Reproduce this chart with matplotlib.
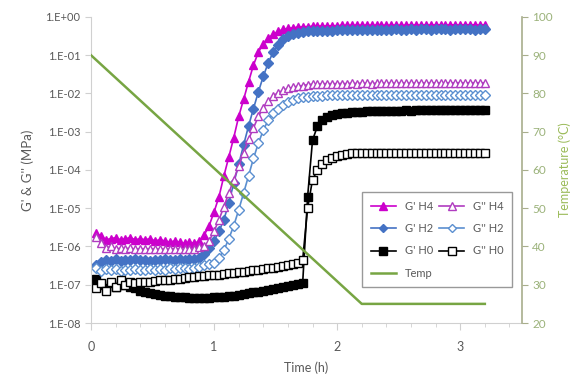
import matplotlib
matplotlib.use("Agg")
import math
import matplotlib.pyplot as plt
from matplotlib.ticker import FixedLocator, FuncFormatter, MultipleLocator

plt.rcParams['font.family'] = ['Lato', 'DejaVu Sans']

# time (h)
time_h = [0.04, 0.08, 0.12, 0.16, 0.20, 0.24, 0.28, 0.32, 0.36, 0.40,
          0.44, 0.48, 0.52, 0.56, 0.60, 0.64, 0.68, 0.72, 0.76, 0.80,
          0.84, 0.88, 0.92, 0.96, 1.00, 1.04, 1.08, 1.12, 1.16, 1.20,
          1.24, 1.28, 1.32, 1.36, 1.40, 1.44, 1.48, 1.52, 1.56, 1.60,
          1.64, 1.68, 1.72, 1.76, 1.80, 1.84, 1.88, 1.92, 1.96, 2.00,
          2.04, 2.08, 2.12, 2.16, 2.20, 2.24, 2.28, 2.32, 2.36, 2.40,
          2.44, 2.48, 2.52, 2.56, 2.60, 2.64, 2.68, 2.72, 2.76, 2.80,
          2.84, 2.88, 2.92, 2.96, 3.00, 3.04, 3.08, 3.12, 3.16, 3.20]

gp_h4 = [2.2e-6, 1.9e-6, 1.5e-6, 1.6e-6, 1.7e-6, 1.5e-6, 1.6e-6, 1.7e-6, 1.5e-6, 1.6e-6,
         1.5e-6, 1.6e-6, 1.4e-6, 1.5e-6, 1.4e-6, 1.3e-6, 1.4e-6, 1.3e-6, 1.2e-6, 1.3e-6,
         1.2e-6, 1.4e-6, 2.0e-6, 3.5e-6, 8e-6, 2e-5, 7e-5, 2.2e-4, 7e-4, 2.5e-3,
         7e-3, 2e-2, 5.5e-2, 0.12, 0.2, 0.28, 0.35, 0.42, 0.47, 0.5,
         0.52, 0.54, 0.55, 0.56, 0.57, 0.57, 0.58, 0.58, 0.59, 0.59,
         0.6, 0.6, 0.6, 0.61, 0.6, 0.61, 0.6, 0.61, 0.61, 0.6,
         0.61, 0.61, 0.6, 0.61, 0.62, 0.61, 0.61, 0.62, 0.61, 0.62,
         0.62, 0.61, 0.62, 0.62, 0.61, 0.62, 0.62, 0.62, 0.61, 0.62]

gpp_h4 = [1.8e-6, 1.2e-6, 9e-7, 1.0e-6, 8.5e-7, 9e-7, 8.8e-7, 9e-7, 8.5e-7, 8.8e-7,
          8.6e-7, 8.8e-7, 8.5e-7, 8.7e-7, 8.5e-7, 8.6e-7, 8.8e-7, 8.6e-7, 8.4e-7, 8.6e-7,
          8.8e-7, 9.5e-7, 1.0e-6, 1.4e-6, 2.5e-6, 5e-6, 1.1e-5, 2.5e-5, 5.6e-5, 1.25e-4,
          2.8e-4, 6.3e-4, 1.25e-3, 2.5e-3, 4.2e-3, 6.3e-3, 8.5e-3, 1.05e-2, 1.2e-2, 1.35e-2,
          1.45e-2, 1.55e-2, 1.6e-2, 1.7e-2, 1.75e-2, 1.75e-2, 1.8e-2, 1.8e-2, 1.8e-2, 1.8e-2,
          1.82e-2, 1.8e-2, 1.85e-2, 1.82e-2, 1.85e-2, 1.85e-2, 1.82e-2, 1.85e-2, 1.87e-2, 1.85e-2,
          1.87e-2, 1.85e-2, 1.88e-2, 1.87e-2, 1.85e-2, 1.88e-2, 1.9e-2, 1.87e-2, 1.88e-2, 1.9e-2,
          1.88e-2, 1.9e-2, 1.88e-2, 1.9e-2, 1.9e-2, 1.88e-2, 1.9e-2, 1.9e-2, 1.88e-2, 1.9e-2]

gp_h2 = [3.3e-7, 4e-7, 4.5e-7, 4.2e-7, 4.6e-7, 4.3e-7, 4.5e-7, 4.4e-7, 4.6e-7, 4.4e-7,
         4.5e-7, 4.3e-7, 4.5e-7, 4.4e-7, 4.6e-7, 4.5e-7, 4.4e-7, 4.6e-7, 4.5e-7, 4.7e-7,
         4.8e-7, 5e-7, 6.3e-7, 9e-7, 1.4e-6, 2.5e-6, 5e-6, 1.4e-5, 4.5e-5, 1.4e-4,
         4.5e-4, 1.4e-3, 4e-3, 1.1e-2, 2.8e-2, 6.3e-2, 0.12, 0.19, 0.26, 0.32,
         0.36, 0.39, 0.41, 0.42, 0.43, 0.43, 0.44, 0.44, 0.44, 0.45,
         0.45, 0.45, 0.46, 0.45, 0.46, 0.46, 0.45, 0.46, 0.46, 0.46,
         0.46, 0.47, 0.46, 0.46, 0.47, 0.46, 0.47, 0.47, 0.46, 0.47,
         0.47, 0.47, 0.46, 0.47, 0.47, 0.47, 0.47, 0.46, 0.47, 0.47]

gpp_h2 = [2.8e-7, 2.3e-7, 2.6e-7, 2.4e-7, 2.6e-7, 2.3e-7, 2.5e-7, 2.4e-7, 2.6e-7, 2.4e-7,
          2.5e-7, 2.6e-7, 2.4e-7, 2.6e-7, 2.5e-7, 2.7e-7, 2.6e-7, 2.8e-7, 2.7e-7, 2.6e-7,
          2.8e-7, 3e-7, 3.2e-7, 3.4e-7, 3.8e-7, 5e-7, 8e-7, 1.6e-6, 3.5e-6, 9e-6,
          2.5e-5, 7e-5, 2e-4, 5e-4, 1.1e-3, 2e-3, 3e-3, 4e-3, 5e-3, 5.9e-3,
          6.8e-3, 7.4e-3, 7.9e-3, 8.3e-3, 8.5e-3, 8.7e-3, 8.8e-3, 8.9e-3, 9e-3, 9e-3,
          9e-3, 9.1e-3, 9e-3, 9.1e-3, 9.1e-3, 9e-3, 9.2e-3, 9.1e-3, 9.1e-3, 9.2e-3,
          9.1e-3, 9.2e-3, 9.2e-3, 9.1e-3, 9.2e-3, 9.2e-3, 9.3e-3, 9.2e-3, 9.2e-3, 9.3e-3,
          9.2e-3, 9.3e-3, 9.2e-3, 9.3e-3, 9.3e-3, 9.2e-3, 9.3e-3, 9.3e-3, 9.3e-3, 9.3e-3]

gp_h0 = [1.4e-7, 1.0e-7, 8e-8, 1.1e-7, 9e-8, 1.0e-7, 1.1e-7, 9e-8, 8e-8, 7e-8,
         6.3e-8, 6e-8, 5.6e-8, 5.4e-8, 5e-8, 5e-8, 4.8e-8, 4.7e-8, 4.7e-8, 4.6e-8,
         4.5e-8, 4.5e-8, 4.5e-8, 4.6e-8, 4.7e-8, 4.7e-8, 4.8e-8, 5e-8, 5.2e-8, 5.5e-8,
         5.7e-8, 6e-8, 6.3e-8, 6.6e-8, 7e-8, 7.4e-8, 7.9e-8, 8.3e-8, 8.9e-8, 9.3e-8,
         1.0e-7, 1.07e-7, 1.12e-7, 2e-5, 6e-4, 1.4e-3, 2e-3, 2.4e-3, 2.7e-3, 2.9e-3,
         3.0e-3, 3.1e-3, 3.2e-3, 3.3e-3, 3.3e-3, 3.4e-3, 3.4e-3, 3.4e-3, 3.5e-3, 3.5e-3,
         3.5e-3, 3.5e-3, 3.5e-3, 3.6e-3, 3.5e-3, 3.6e-3, 3.6e-3, 3.6e-3, 3.6e-3, 3.6e-3,
         3.6e-3, 3.6e-3, 3.6e-3, 3.6e-3, 3.6e-3, 3.6e-3, 3.6e-3, 3.6e-3, 3.6e-3, 3.6e-3]

gpp_h0 = [8e-8, 1.1e-7, 7e-8, 1.2e-7, 9e-8, 1.3e-7, 1.0e-7, 1.2e-7, 1.1e-7, 1.2e-7,
          1.15e-7, 1.2e-7, 1.25e-7, 1.3e-7, 1.3e-7, 1.35e-7, 1.4e-7, 1.45e-7, 1.5e-7, 1.55e-7,
          1.6e-7, 1.65e-7, 1.7e-7, 1.75e-7, 1.8e-7, 1.85e-7, 1.9e-7, 2e-7, 2.05e-7, 2.1e-7,
          2.2e-7, 2.3e-7, 2.4e-7, 2.5e-7, 2.6e-7, 2.7e-7, 2.8e-7, 3e-7, 3.1e-7, 3.3e-7,
          3.5e-7, 3.8e-7, 4.5e-7, 1e-5, 5.6e-5, 1e-4, 1.4e-4, 1.8e-4, 2.1e-4, 2.3e-4,
          2.5e-4, 2.6e-4, 2.7e-4, 2.7e-4, 2.8e-4, 2.8e-4, 2.8e-4, 2.8e-4, 2.8e-4, 2.8e-4,
          2.8e-4, 2.8e-4, 2.8e-4, 2.8e-4, 2.8e-4, 2.8e-4, 2.8e-4, 2.8e-4, 2.8e-4, 2.8e-4,
          2.8e-4, 2.8e-4, 2.8e-4, 2.8e-4, 2.8e-4, 2.8e-4, 2.8e-4, 2.8e-4, 2.8e-4, 2.8e-4]

temp_t = [0.0, 2.2, 3.2]
temp_c = [90, 25, 25]

fig = plt.figure(figsize=(5.74, 3.85), dpi=100)
ax = fig.add_axes([0.1585, 0.161, 0.7505, 0.795])
ax2 = ax.twinx()

ms = 6
l1, = ax.plot(time_h, gp_h4, color='#CC00CC', marker='^', ms=ms, lw=1.2, label="G' H4")
l3, = ax.plot(time_h, gp_h2, color='#4472C4', marker='D', ms=ms - 1, lw=1.2, label="G' H2")
l5, = ax.plot(time_h, gp_h0, color='black', marker='s', ms=ms, lw=1.2, label="G' H0")
l2, = ax.plot(time_h, gpp_h4, color='#B03CC0', marker='^', ms=ms, lw=1.2, mfc='white', label="G'' H4")
l4, = ax.plot(time_h, gpp_h2, color='#5B8FD0', marker='D', ms=ms - 1, lw=1.2, mfc='white', label="G'' H2")
l6, = ax.plot(time_h, gpp_h0, color='black', marker='s', ms=ms, lw=1.2, mfc='white', label="G'' H0")
lt, = ax2.plot(temp_t, temp_c, color='#77A543', lw=1.8, label='Temp')

ax.set_yscale('log')
ax.set_ylim(1e-8, 1)
ax.set_xlim(0, 3.5)
ax2.set_ylim(20, 100)

axis_gray = '#D0D0D0'
text_gray = '#595959'
ax.yaxis.set_major_locator(FixedLocator([10.0 ** k for k in range(-8, 1)]))
ax.yaxis.set_minor_locator(FixedLocator([]))
ax.yaxis.set_major_formatter(FuncFormatter(lambda v, p: '1.E%+03d' % round(math.log10(v))))
ax.xaxis.set_major_locator(MultipleLocator(1))
ax.xaxis.set_minor_locator(MultipleLocator(0.2))
ax.tick_params(axis='both', which='both', colors=axis_gray, labelcolor=text_gray, labelsize=8)
ax.tick_params(axis='x', which='major', length=5, pad=8, labelsize=9)
ax.tick_params(axis='x', which='minor', length=3)
ax.tick_params(axis='y', length=4)
for s in ['left', 'bottom']:
    ax.spines[s].set_color(axis_gray)
ax.spines['top'].set_visible(False)
ax.spines['right'].set_visible(False)

green_axis = '#A8AE8C'
ax2.yaxis.set_major_locator(MultipleLocator(10))
ax2.tick_params(axis='y', colors=green_axis, labelcolor='#9BB27A', labelsize=8.5, length=4)
ax2.spines['right'].set_color(green_axis)
ax2.spines['right'].set_linewidth(1.2)
for s in ['left', 'bottom', 'top']:
    ax2.spines[s].set_visible(False)

ax.set_xlabel('Time (h)', color=text_gray, fontsize=9, labelpad=6)
ax.set_ylabel("G' & G'' (MPa)", color=text_gray, fontsize=9.5, labelpad=8)
ax2.set_ylabel('Temperature (°C)', color='#9BBB59', fontsize=9, va='center')
ax2.yaxis.set_label_coords(1.1, 0.5)

ax2.legend(handles=[l1, l3, l5, lt, l2, l4, l6], ncol=2, loc='upper left',
           bbox_to_anchor=(0.617, 0.445), fontsize=8, frameon=True, fancybox=False,
           edgecolor='#808080', labelcolor=text_gray, handlelength=2.2,
           columnspacing=0.6, labelspacing=1.0, borderpad=0.8, markerscale=0.9)

plt.savefig('out.png', dpi=100)
